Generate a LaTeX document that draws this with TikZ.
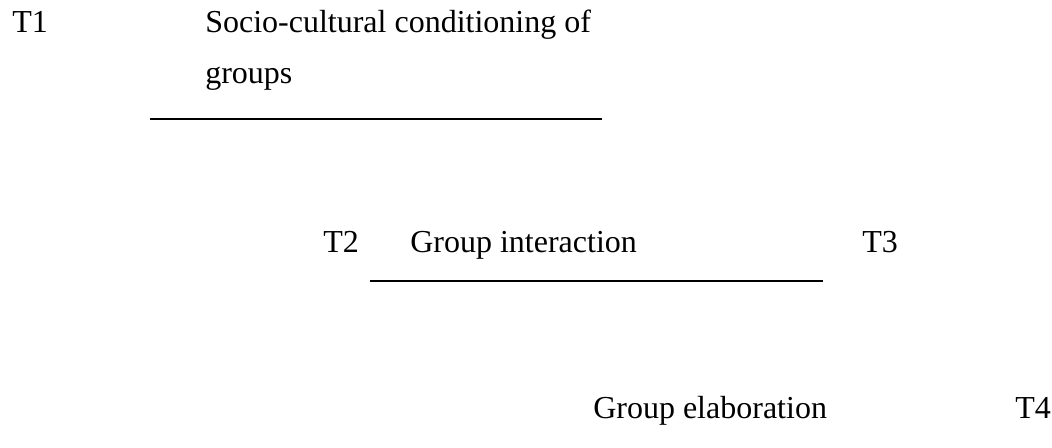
\documentclass[tikz,border=0pt]{standalone}
\usepackage{fontspec}
\setmainfont{Liberation Serif}
\begin{document}
\begin{tikzpicture}[x=0.75pt,y=-0.75pt,
  lbl/.style={anchor=base west,inner sep=0pt,font=\fontsize{24}{28}\selectfont},
  rule/.style={line width=1.3pt}]
\useasboundingbox (0,0) rectangle (1052,448);
\node[lbl] (t1) at (12,33) {T1};
\node[lbl] (sc) at (205,33) {Socio-cultural conditioning of};
\node[lbl] (gr) at (205,84) {groups};
\coordinate (l1a) at (150,119);
\coordinate (l1b) at (602,119);
\draw[rule] (l1a) -- (l1b);
\node[lbl] (t2) at (323,253) {T2};
\node[lbl] (gi) at (410,253) {Group interaction};
\node[lbl] (t3) at (862,253) {T3};
\coordinate (l2a) at (370,281);
\coordinate (l2b) at (823,281);
\draw[rule] (l2a) -- (l2b);
\node[lbl] (ge) at (593,418) {Group elaboration};
\node[lbl] (t4) at (1015,418) {T4};
\end{tikzpicture}
\end{document}
